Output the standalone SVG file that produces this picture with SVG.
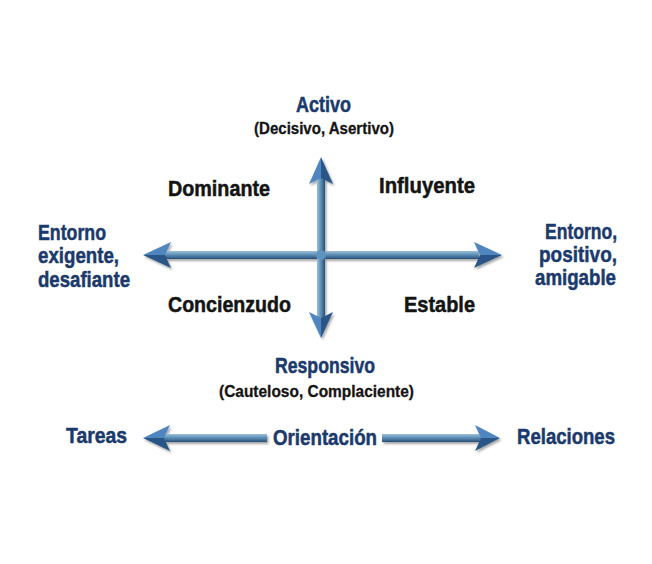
<svg xmlns="http://www.w3.org/2000/svg" width="652" height="564" viewBox="0 0 652 564">
<style>
  text { font-family: "Liberation Sans", "DejaVu Sans", Arial, sans-serif; font-weight: bold; }
  .blue { fill: #1b3a6b; stroke: #1b3a6b; stroke-width: 0.5; font-size: 22px; }
  .black { fill: #141414; stroke: #141414; stroke-width: 0.5; font-size: 22px; }
  .paren { fill: #141414; stroke: #141414; stroke-width: 0.3; font-size: 16.5px; }
  .hl { fill: #4f86bf; }
  .hd { fill: #2a5687; }
</style>
<defs>
  <linearGradient id="shaftH" x1="0" y1="0" x2="0" y2="1">
    <stop offset="0" stop-color="#9fc0d8"/>
    <stop offset="0.35" stop-color="#6b9bc0"/>
    <stop offset="0.75" stop-color="#3f6f98"/>
    <stop offset="1" stop-color="#274b70"/>
  </linearGradient>
  <linearGradient id="shaftV" x1="0" y1="0" x2="1" y2="0">
    <stop offset="0" stop-color="#9fc0d8"/>
    <stop offset="0.35" stop-color="#6b9bc0"/>
    <stop offset="0.75" stop-color="#3f6f98"/>
    <stop offset="1" stop-color="#274b70"/>
  </linearGradient>
  <filter id="sh" x="-10%" y="-10%" width="120%" height="130%">
    <feDropShadow dx="1.5" dy="2" stdDeviation="1.2" flood-color="#000" flood-opacity="0.35"/>
  </filter>
</defs>

<g id="connectors" filter="url(#sh)">
  <g id="axis-horizontal">
    <rect x="163" y="251" width="316" height="8" fill="url(#shaftH)"/>
    <polygon class="hl" points="143,255 171,242 165,255"/>
    <polygon class="hd" points="143,255 165,255 171,268"/>
    <polygon class="hl" points="502,255 474,242 480,255"/>
    <polygon class="hd" points="502,255 480,255 474,268"/>
  </g>
  <g id="axis-vertical">
    <rect x="317" y="178" width="8" height="140" fill="url(#shaftV)"/>
    <polygon class="hl" points="321,157 309,184 321,178"/>
    <polygon class="hd" points="321,157 321,178 333,184"/>
    <polygon class="hl" points="321,338 309,312 321,318"/>
    <polygon class="hd" points="321,338 321,318 333,312"/>
    <circle cx="321" cy="255" r="5" fill="#5f92bd"/>
  </g>
  <g id="axis-orientation">
    <rect x="163" y="434" width="104" height="8" fill="url(#shaftH)"/>
    <polygon class="hl" points="143,438 170,425 164,438"/>
    <polygon class="hd" points="143,438 164,438 170,451"/>
    <rect x="382" y="434" width="100" height="8" fill="url(#shaftH)"/>
    <polygon class="hl" points="500,438 475,425 481,438"/>
    <polygon class="hd" points="500,438 481,438 475,451"/>
  </g>
</g>

<g id="node-activo">
  <text class="blue" x="296" y="112" textLength="55" lengthAdjust="spacingAndGlyphs">Activo</text>
  <text class="paren" x="254" y="134" textLength="140" lengthAdjust="spacingAndGlyphs">(Decisivo, Asertivo)</text>
</g>
<g id="node-dominante">
  <text class="black" x="168" y="196" textLength="102" lengthAdjust="spacingAndGlyphs">Dominante</text>
</g>
<g id="node-influyente">
  <text class="black" x="379" y="193" textLength="96" lengthAdjust="spacingAndGlyphs">Influyente</text>
</g>
<g id="node-concienzudo">
  <text class="black" x="168" y="312" textLength="123" lengthAdjust="spacingAndGlyphs">Concienzudo</text>
</g>
<g id="node-estable">
  <text class="black" x="404" y="312" textLength="71" lengthAdjust="spacingAndGlyphs">Estable</text>
</g>
<g id="node-entorno-exigente">
  <text class="blue" x="38" y="240" textLength="68" lengthAdjust="spacingAndGlyphs">Entorno</text>
  <text class="blue" x="38" y="263" textLength="81" lengthAdjust="spacingAndGlyphs">exigente,</text>
  <text class="blue" x="38" y="287" textLength="92" lengthAdjust="spacingAndGlyphs">desafiante</text>
</g>
<g id="node-entorno-positivo">
  <text class="blue" x="545" y="239" textLength="72" lengthAdjust="spacingAndGlyphs">Entorno,</text>
  <text class="blue" x="539" y="262" textLength="78" lengthAdjust="spacingAndGlyphs">positivo,</text>
  <text class="blue" x="535" y="285" textLength="81" lengthAdjust="spacingAndGlyphs">amigable</text>
</g>
<g id="node-responsivo">
  <text class="blue" x="275" y="373" textLength="100" lengthAdjust="spacingAndGlyphs">Responsivo</text>
  <text class="paren" x="219" y="397" textLength="195" lengthAdjust="spacingAndGlyphs">(Cauteloso, Complaciente)</text>
</g>
<g id="node-tareas">
  <text class="blue" x="66" y="443" textLength="61" lengthAdjust="spacingAndGlyphs">Tareas</text>
</g>
<g id="node-orientacion">
  <text class="blue" x="273" y="445" textLength="104" lengthAdjust="spacingAndGlyphs">Orientación</text>
</g>
<g id="node-relaciones">
  <text class="blue" x="517" y="444" textLength="98" lengthAdjust="spacingAndGlyphs">Relaciones</text>
</g>
</svg>
